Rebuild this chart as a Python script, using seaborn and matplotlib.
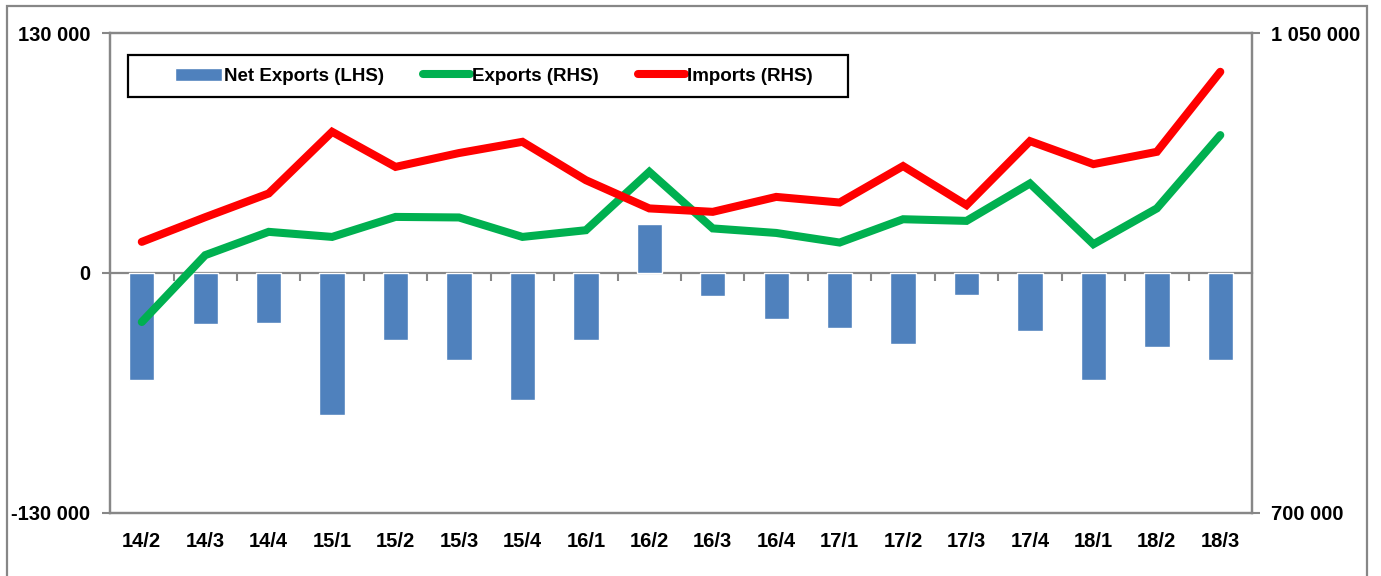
import numpy as np
import pandas as pd
import matplotlib
matplotlib.use("Agg")
import matplotlib.pyplot as plt
from matplotlib.patches import Rectangle
from matplotlib.ticker import FuncFormatter, FixedLocator, NullFormatter
import seaborn as sns

quarters = ["14/2", "14/3", "14/4", "15/1", "15/2", "15/3", "15/4", "16/1", "16/2",
            "16/3", "16/4", "17/1", "17/2", "17/3", "17/4", "18/1", "18/2", "18/3"]
net_exports = [-58000, -28000, -27000, -77000, -36500, -47300, -69000, -36500, 26600,
               -12600, -25200, -30000, -38600, -12100, -31400, -58100, -40100, -47300]
exports = [839100, 887900, 904900, 901200, 915800, 915400, 901200, 906100, 948700,
           907400, 904100, 897100, 914100, 912900, 940200, 895900, 922000, 975500]
imports = [897600, 915600, 932900, 977900, 952300, 962400, 970600, 942600, 922000,
           919500, 930400, 926300, 952900, 924400, 971100, 954300, 963300, 1021700]

df = pd.DataFrame({"quarter": quarters, "net": net_exports,
                   "exports": exports, "imports": imports})

sns.set_style("white")
plt.rcParams["font.family"] = ["Liberation Sans", "DejaVu Sans"]
plt.rcParams["font.weight"] = "bold"
plt.rcParams["text.color"] = "black"
plt.rcParams["xtick.labelcolor"] = "black"
plt.rcParams["ytick.labelcolor"] = "black"

grey = "#878787"
blue = "#4F81BD"
green = "#00B050"
red = "#FF0000"

fig, ax = plt.subplots(figsize=(13.81, 5.76), dpi=100)
fig.subplots_adjust(left=0.0797, right=0.9066, top=0.9427, bottom=0.110)

sns.barplot(data=df, x="quarter", y="net", color=blue, width=0.4, ax=ax,
            label="Net Exports (LHS)", saturation=1)
ax.set_ylim(-130000, 130000)
ax.set_xlim(-0.5, len(quarters) - 0.5)
if ax.get_legend() is not None:
    ax.get_legend().remove()

ax2 = ax.twinx()
sns.lineplot(data=df, x="quarter", y="exports", color=green, lw=5.8, ax=ax2,
             label="Exports (RHS)", solid_capstyle="round", solid_joinstyle="miter")
sns.lineplot(data=df, x="quarter", y="imports", color=red, lw=5.8, ax=ax2,
             label="Imports (RHS)", solid_capstyle="round", solid_joinstyle="miter")
ax2.set_ylim(700000, 1050000)
ax2.get_legend().remove()

fmt = FuncFormatter(lambda v, p: format(int(v), ",").replace(",", " "))
ax.yaxis.set_major_locator(FixedLocator([-130000, 0, 130000]))
ax.yaxis.set_major_formatter(fmt)
ax2.yaxis.set_major_locator(FixedLocator([700000, 1050000]))
ax2.yaxis.set_major_formatter(fmt)

for a in (ax, ax2):
    a.set_xlabel("")
    a.set_ylabel("")
    for s in a.spines.values():
        s.set_visible(True)
        s.set_color(grey)
        s.set_linewidth(1.6)

ax.tick_params(axis="y", length=6, width=1.5, color=grey, labelcolor="black", pad=8,
               labelsize=14.5, direction="out", left=True)
ax2.tick_params(axis="y", length=6, width=1.5, color=grey, labelcolor="black", pad=8,
                labelsize=14.5, direction="out", right=True)
ax.tick_params(axis="x", length=0, pad=14, labelsize=14.5, labelcolor="black")

# zero line with category separators
zero_axis = ax.secondary_xaxis(0.5)
for s in zero_axis.spines.values():
    s.set_color(grey)
    s.set_linewidth(1.6)
zero_axis.xaxis.set_major_locator(FixedLocator(np.arange(0.5, len(quarters) - 0.5, 1.0)))
zero_axis.xaxis.set_major_formatter(NullFormatter())
zero_axis.tick_params(axis="x", length=6, width=1.5, color=grey, direction="in")

# legend
h1, l1 = ax.get_legend_handles_labels()
h2, l2 = ax2.get_legend_handles_labels()
leg = ax2.legend(h1 + h2, l1 + l2, ncol=3, loc="center",
                 bbox_to_anchor=(0.336, 0.910), frameon=False, fontsize=13.5,
                 handlelength=2.5, handletextpad=0.1, columnspacing=2.1,
                 labelcolor="black")
leg.set_zorder(6)
ax2.add_patch(Rectangle((0.0158, 0.866), 0.6304, 0.088, transform=ax2.transAxes,
                        facecolor="white", edgecolor="black", lw=1.6, zorder=5.5))

fig.patches.append(Rectangle((0.005, -0.01), 0.985, 1.0, transform=fig.transFigure,
                             fill=False, edgecolor=grey, lw=1.6))

fig.savefig("out.png", dpi=100)
